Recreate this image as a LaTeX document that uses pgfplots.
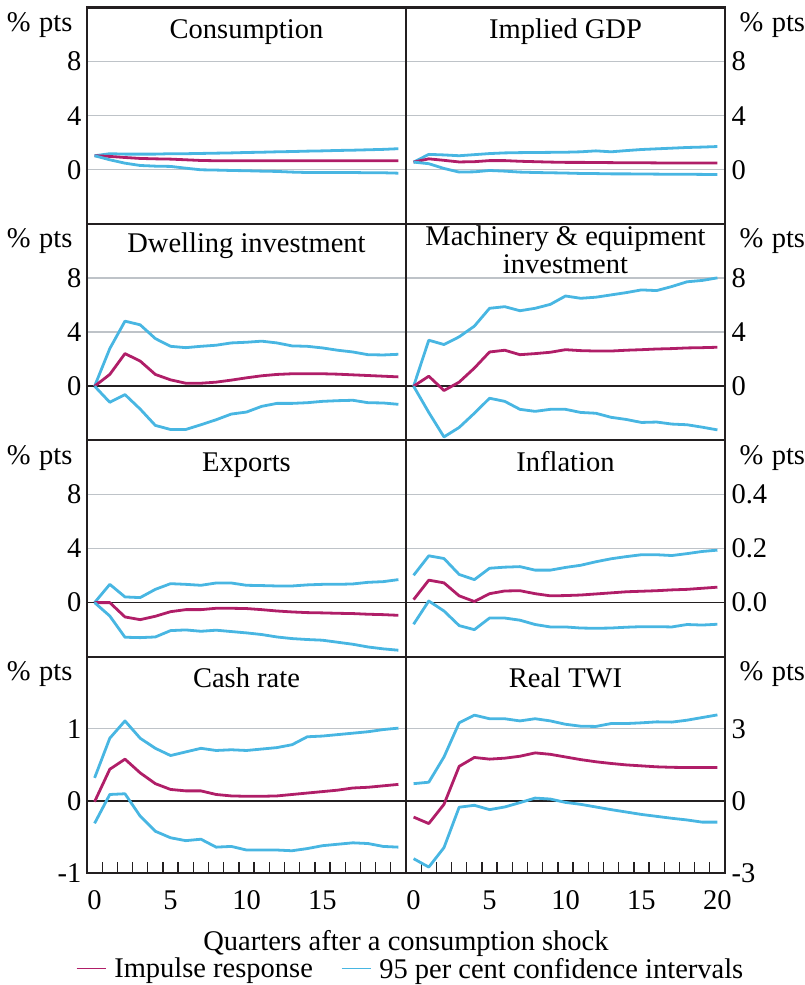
\documentclass[border=0pt]{standalone}
\usepackage{fontspec}
\setmainfont{Liberation Serif}
\usepackage{pgfplots}
\pgfplotsset{compat=1.18}
\usepackage{pgfplotstable}

\definecolor{irfred}{RGB}{176,30,104}
\definecolor{ciblue}{RGB}{72,182,226}
\definecolor{gridgrey}{RGB}{190,195,200}
\definecolor{framec}{RGB}{35,31,32}
\newcommand{\chartfont}{\fontsize{28.5}{34}\selectfont}

% q = quarters after shock, hi/lo = 95% bands, irf = impulse response
\pgfplotstableread{
q hi irf lo
0 1.04 1.04 1.04
1 1.19 0.99 0.74
2 1.16 0.91 0.49
3 1.16 0.84 0.32
4 1.16 0.81 0.27
5 1.19 0.79 0.25
6 1.19 0.74 0.12
7 1.21 0.69 0.00
8 1.23 0.67 -0.02
9 1.25 0.67 -0.05
10 1.28 0.67 -0.07
11 1.30 0.67 -0.10
12 1.33 0.67 -0.12
13 1.35 0.67 -0.17
14 1.38 0.67 -0.20
15 1.40 0.67 -0.20
16 1.43 0.67 -0.20
17 1.45 0.67 -0.20
18 1.48 0.67 -0.22
19 1.51 0.67 -0.22
20 1.56 0.67 -0.25
}\consumption

\pgfplotstableread{
q hi irf lo
0 0.57 0.57 0.57
1 1.14 0.81 0.45
2 1.10 0.70 0.10
3 1.04 0.58 -0.17
4 1.12 0.60 -0.15
5 1.20 0.68 -0.05
6 1.25 0.68 -0.10
7 1.27 0.63 -0.17
8 1.28 0.60 -0.20
9 1.29 0.57 -0.22
10 1.30 0.55 -0.24
11 1.33 0.55 -0.27
12 1.40 0.54 -0.28
13 1.33 0.53 -0.30
14 1.42 0.52 -0.30
15 1.50 0.52 -0.31
16 1.55 0.51 -0.32
17 1.60 0.51 -0.33
18 1.65 0.50 -0.33
19 1.68 0.50 -0.34
20 1.72 0.50 -0.35
}\gdp

\pgfplotstableread{
q hi irf lo
0 0.00 0.00 0.00
1 2.78 0.87 -1.19
2 4.81 2.41 -0.62
3 4.54 1.86 -1.69
4 3.52 0.87 -2.90
5 2.95 0.47 -3.20
6 2.85 0.22 -3.20
7 2.95 0.22 -2.85
8 3.03 0.30 -2.48
9 3.20 0.45 -2.06
10 3.25 0.62 -1.91
11 3.33 0.77 -1.49
12 3.20 0.87 -1.27
13 2.98 0.92 -1.27
14 2.95 0.92 -1.22
15 2.83 0.92 -1.12
16 2.66 0.89 -1.07
17 2.53 0.84 -1.04
18 2.33 0.79 -1.22
19 2.31 0.74 -1.24
20 2.36 0.69 -1.34
}\dwelling

\pgfplotstableread{
q hi irf lo
0 0.00 0.00 0.00
1 3.40 0.74 -1.94
2 3.08 -0.32 -3.75
3 3.65 0.30 -3.05
4 4.44 1.34 -2.00
5 5.76 2.53 -0.89
6 5.88 2.66 -1.12
7 5.58 2.33 -1.71
8 5.76 2.41 -1.86
9 6.05 2.51 -1.71
10 6.67 2.70 -1.71
11 6.50 2.63 -1.94
12 6.58 2.60 -2.00
13 6.75 2.60 -2.30
14 6.92 2.66 -2.46
15 7.12 2.70 -2.68
16 7.07 2.75 -2.65
17 7.37 2.78 -2.80
18 7.72 2.83 -2.85
19 7.82 2.85 -3.03
20 8.01 2.88 -3.23
}\machinery

\pgfplotstableread{
q hi irf lo
0 0.00 0.00 0.00
1 1.35 0.00 -0.99
2 0.42 -1.06 -2.56
3 0.37 -1.26 -2.59
4 0.98 -1.01 -2.54
5 1.40 -0.67 -2.07
6 1.35 -0.52 -2.02
7 1.28 -0.52 -2.12
8 1.45 -0.42 -2.04
9 1.45 -0.42 -2.14
10 1.28 -0.44 -2.24
11 1.26 -0.52 -2.36
12 1.23 -0.62 -2.54
13 1.23 -0.69 -2.66
14 1.31 -0.74 -2.73
15 1.35 -0.76 -2.78
16 1.35 -0.79 -2.93
17 1.38 -0.81 -3.08
18 1.50 -0.86 -3.28
19 1.55 -0.89 -3.42
20 1.70 -0.94 -3.52
}\exports

\pgfplotstableread{
q hi irf lo
0 0.101 0.011 -0.080
1 0.173 0.083 0.006
2 0.163 0.073 -0.031
3 0.104 0.025 -0.085
4 0.085 0.004 -0.100
5 0.127 0.033 -0.057
6 0.131 0.043 -0.057
7 0.133 0.044 -0.065
8 0.120 0.033 -0.081
9 0.120 0.025 -0.090
10 0.130 0.026 -0.090
11 0.138 0.028 -0.094
12 0.151 0.032 -0.095
13 0.162 0.036 -0.094
14 0.170 0.040 -0.091
15 0.177 0.042 -0.089
16 0.177 0.044 -0.089
17 0.174 0.047 -0.090
18 0.181 0.049 -0.081
19 0.189 0.053 -0.083
20 0.194 0.057 -0.080
}\inflation

\pgfplotstableread{
q hi irf lo
0 0.32 -0.01 -0.31
1 0.87 0.44 0.09
2 1.11 0.58 0.10
3 0.87 0.39 -0.21
4 0.73 0.24 -0.42
5 0.63 0.16 -0.51
6 0.68 0.14 -0.55
7 0.73 0.14 -0.53
8 0.70 0.09 -0.64
9 0.71 0.07 -0.63
10 0.70 0.065 -0.68
11 0.72 0.065 -0.68
12 0.74 0.07 -0.68
13 0.78 0.09 -0.69
14 0.89 0.11 -0.66
15 0.90 0.13 -0.62
16 0.92 0.15 -0.60
17 0.94 0.18 -0.58
18 0.96 0.19 -0.59
19 0.99 0.21 -0.63
20 1.01 0.23 -0.64
}\cashrate

\pgfplotstableread{
q hi irf lo
0 0.72 -0.67 -2.40
1 0.78 -0.94 -2.75
2 1.83 -0.14 -1.94
3 3.25 1.44 -0.26
4 3.57 1.81 -0.18
5 3.42 1.74 -0.36
6 3.42 1.78 -0.25
7 3.33 1.86 -0.07
8 3.42 2.00 0.12
9 3.33 1.94 0.08
10 3.19 1.83 -0.06
11 3.11 1.72 -0.14
12 3.10 1.63 -0.25
13 3.22 1.56 -0.36
14 3.22 1.50 -0.46
15 3.25 1.46 -0.56
16 3.29 1.42 -0.64
17 3.28 1.40 -0.72
18 3.36 1.39 -0.79
19 3.47 1.39 -0.88
20 3.58 1.39 -0.88
}\twi

\pgfplotsset{
  panel/.style={
    scale only axis, width=319pt, height=216.4pt,
    anchor=north west,
    xmin=-0.5, xmax=20.5,
    clip=false,
    axis line style={framec, line width=2.2pt},
    xtick=\empty,
    ytick style={draw=none},
    major tick length=0pt,
    ymajorgrids,
    grid style={gridgrey, line width=1.3pt},
    extra y tick style={grid=major, major grid style={framec, line width=1.5pt}},
    tick label style={font=\chartfont},
    every axis plot/.append style={line width=2.8pt, line join=round},
  },
  leftp/.style={panel, yticklabel pos=left, yticklabel style={xshift=-2pt}},
  rightp/.style={panel, yticklabel pos=right, yticklabel style={xshift=3pt}},
  bottomp/.style={
    xtick={0,5,10,15,20},
    minor xtick={0.5,1.5,...,19.5},
    xtick pos=left, xtick align=inside,
    minor tick length=11pt,
    minor x tick style={framec, line width=1.3pt},
    xticklabel style={anchor=base, inner sep=0pt, yshift=-36pt},
  },
}

\newcommand{\bands}[1]{%
  \addplot[ciblue] table[x=q, y=hi] {#1};
  \addplot[irfred] table[x=q, y=irf] {#1};
  \addplot[ciblue] table[x=q, y=lo] {#1};
}
\newcommand{\lunit}{\node[anchor=base east, xshift=-11pt, yshift=-24pt] at (rel axis cs:0,1) {\%\hspace{0.3em}pts};}
\newcommand{\runit}{\node[anchor=base west, xshift=11pt, yshift=-24pt] at (rel axis cs:1,1) {\%\hspace{0.3em}pts};}

\begin{document}
\begin{tikzpicture}[font=\chartfont]
\useasboundingbox (0,0) rectangle (804pt,-985pt);

% row 1
\begin{axis}[leftp, at={(87pt,-7.5pt)}, ymin=-4, ymax=12, ytick={0,4,8}, yticklabels={0,4,8}]
\bands{\consumption}
\node[anchor=base, yshift=-31pt] at (rel axis cs:0.5,1) {Consumption};
\lunit
\end{axis}
\begin{axis}[rightp, at={(406pt,-7.5pt)}, ymin=-4, ymax=12, ytick={0,4,8}, yticklabels={0,4,8}]
\bands{\gdp}
\node[anchor=base, yshift=-31pt] at (rel axis cs:0.5,1) {Implied GDP};
\runit
\end{axis}

% row 2
\begin{axis}[leftp, at={(87pt,-223.9pt)}, ymin=-4, ymax=12, ytick={4,8}, yticklabels={4,8},
  extra y ticks={0}, extra y tick labels={0}]
\bands{\dwelling}
\node[anchor=base, yshift=-29pt] at (rel axis cs:0.5,1) {Dwelling investment};
\lunit
\end{axis}
\begin{axis}[rightp, at={(406pt,-223.9pt)}, ymin=-4, ymax=12, ytick={4,8}, yticklabels={4,8},
  extra y ticks={0}, extra y tick labels={0}]
\bands{\machinery}
\node[anchor=base, yshift=-22pt] at (rel axis cs:0.5,1) {Machinery \& equipment};
\node[anchor=base, yshift=-50pt] at (rel axis cs:0.5,1) {investment};
\runit
\end{axis}

% row 3
\begin{axis}[leftp, at={(87pt,-440.3pt)}, ymin=-4, ymax=12, ytick={4,8}, yticklabels={4,8},
  extra y ticks={0}, extra y tick labels={0}]
\bands{\exports}
\node[anchor=base, yshift=-31pt] at (rel axis cs:0.5,1) {Exports};
\lunit
\end{axis}
\begin{axis}[rightp, at={(406pt,-440.3pt)}, ymin=-0.2, ymax=0.6, ytick={0.2,0.4}, yticklabels={0.2,0.4},
  extra y ticks={0}, extra y tick labels={0.0}]
\bands{\inflation}
\node[anchor=base, yshift=-31pt] at (rel axis cs:0.5,1) {Inflation};
\runit
\end{axis}

% row 4
\begin{axis}[leftp, bottomp, at={(87pt,-656.7pt)}, ymin=-1, ymax=2, ytick={-1,1}, yticklabels={-1,1},
  extra y ticks={0}, extra y tick labels={0},
  xticklabels={0,5,10,15,},
  legend columns=2,
  legend image code/.code={\draw[#1] (0pt,0pt) -- (29pt,0pt);},
  legend style={draw=none, fill=none, inner sep=0pt, outer sep=0pt,
    at={(-0.0345,-0.392)}, anchor=north west, font=\chartfont,
    nodes={inner sep=0pt},
    /tikz/every odd column/.append style={column sep=8pt},
    /tikz/every even column/.append style={column sep=28pt}},
  legend cell align=left]
\addlegendimage{irfred, line width=1.3pt}
\addlegendentry{Impulse response}
\addlegendimage{ciblue, line width=1.3pt}
\addlegendentry{95 per cent confidence intervals}
\bands{\cashrate}
\node[anchor=base, yshift=-31pt] at (rel axis cs:0.5,1) {Cash rate};
\node[anchor=base, yshift=-77pt] at (rel axis cs:1,0) {Quarters after a consumption shock};
\lunit
\end{axis}
\begin{axis}[rightp, bottomp, at={(406pt,-656.7pt)}, ymin=-3, ymax=6, ytick={-3,3}, yticklabels={-3,3},
  extra y ticks={0}, extra y tick labels={0},
  xticklabels={0,5,10,15,20}]
\bands{\twi}
\node[anchor=base, yshift=-31pt] at (rel axis cs:0.5,1) {Real TWI};
\runit
\end{axis}
\end{tikzpicture}
\end{document}
